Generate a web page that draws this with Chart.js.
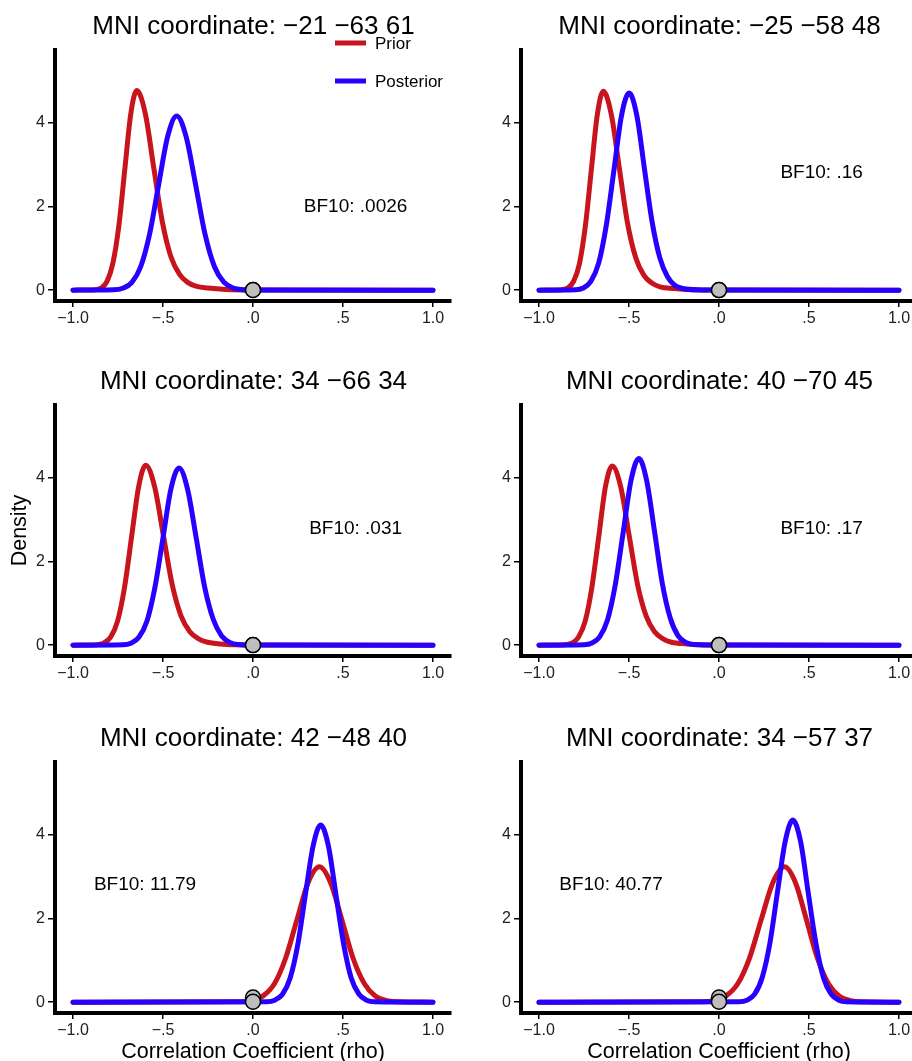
<!DOCTYPE html>
<html>
<head>
<meta charset="utf-8">
<script src="https://cdn.jsdelivr.net/npm/chart.js@4.4.0/dist/chart.umd.min.js"></script>
<style>
  html, body { margin: 0; padding: 0; background: #fff; }
  #page { position: relative; width: 912px; height: 1061px; overflow: hidden; }
  #page canvas { position: absolute; }
</style>
</head>
<body>
<div id="page"></div>
<script>
// ---- data ----
var panelTitles = [
    'MNI coordinate: \u221221 \u221263 61',
    'MNI coordinate: \u221225 \u221258 48',
    'MNI coordinate: 34 \u221266 34',
    'MNI coordinate: 40 \u221270 45',
    'MNI coordinate: 42 \u221248 40',
    'MNI coordinate: 34 \u221257 37'
];
var seriesNames = ['Prior', 'Posterior'];
var bfLabels = ['BF10: .0026', 'BF10: .16', 'BF10: .031', 'BF10: .17', 'BF10: 11.79', 'BF10: 40.77'];
var bfX = [0.57, 0.57, 0.57, 0.57, -0.6, -0.6];
var bfY = [2.0, 2.8, 2.78, 2.78, 2.8, 2.8];

var xTickValues = [-1, -0.5, 0, 0.5, 1];
var xTickLabels = ['\u22121.0', '\u2212.5', '.0', '.5', '1.0'];
var yTickValues = [0, 2, 4];
var yTickLabels = ['0', '2', '4'];
var xAxisTitle = 'Correlation Coefficient (rho)';
var yAxisTitle = 'Density';

var p1PriorX = [-1.0, -0.877, -0.844, -0.811, -0.778, -0.745, -0.712, -0.679, -0.646, -0.598, -0.551, -0.503, -0.456, -0.408, -0.361, -0.313, -0.25, -0.15, 0, 1.0];
var p1PriorY = [0, 0.01, 0.05, 0.21, 0.65, 1.55, 2.90, 4.22, 4.78, 4.22, 2.92, 1.62, 0.80, 0.38, 0.18, 0.09, 0.05, 0.015, 0.003, 0];
var p1PostX = [-1.0, -0.774, -0.724, -0.674, -0.624, -0.574, -0.524, -0.474, -0.424, -0.372, -0.319, -0.267, -0.214, -0.162, -0.109, -0.057, 0, 1.0];
var p1PostY = [0, 0.01, 0.046, 0.18, 0.56, 1.35, 2.53, 3.68, 4.17, 3.68, 2.53, 1.35, 0.56, 0.19, 0.05, 0.012, 0.003, 0];

var p2PriorX = [-1.0, -0.874, -0.841, -0.808, -0.775, -0.742, -0.709, -0.676, -0.643, -0.598, -0.553, -0.508, -0.463, -0.418, -0.373, -0.328, -0.25, -0.15, 0, 1.0];
var p2PriorY = [0, 0.01, 0.05, 0.21, 0.64, 1.55, 2.89, 4.20, 4.76, 4.20, 2.90, 1.60, 0.78, 0.36, 0.17, 0.08, 0.04, 0.012, 0.002, 0];
var p2PostX = [-1.0, -0.797, -0.754, -0.712, -0.669, -0.627, -0.584, -0.542, -0.499, -0.456, -0.414, -0.371, -0.329, -0.286, -0.244, -0.201, -0.1, 0, 1.0];
var p2PostY = [0, 0.01, 0.052, 0.21, 0.64, 1.53, 2.86, 4.17, 4.72, 4.17, 2.90, 1.62, 0.78, 0.32, 0.11, 0.04, 0.006, 0.001, 0];

var p3PriorX = [-1.0, -0.869, -0.83, -0.791, -0.752, -0.713, -0.674, -0.635, -0.596, -0.547, -0.498, -0.449, -0.4, -0.351, -0.302, -0.253, -0.18, -0.1, 0, 1.0];
var p3PriorY = [0, 0.01, 0.048, 0.19, 0.58, 1.40, 2.61, 3.80, 4.31, 3.80, 2.63, 1.45, 0.70, 0.32, 0.15, 0.07, 0.03, 0.01, 0.002, 0];
var p3PostX = [-1.0, -0.723, -0.678, -0.634, -0.589, -0.545, -0.5, -0.456, -0.411, -0.364, -0.316, -0.269, -0.221, -0.174, -0.126, -0.079, 0, 1.0];
var p3PostY = [0, 0.01, 0.047, 0.19, 0.58, 1.38, 2.57, 3.74, 4.24, 3.74, 2.58, 1.40, 0.62, 0.22, 0.06, 0.015, 0.002, 0];

var p4PriorX = [-1.0, -0.856, -0.818, -0.781, -0.743, -0.706, -0.668, -0.631, -0.593, -0.546, -0.499, -0.452, -0.405, -0.358, -0.311, -0.264, -0.18, -0.1, 0, 1.0];
var p4PriorY = [0, 0.01, 0.048, 0.19, 0.58, 1.39, 2.60, 3.79, 4.29, 3.79, 2.62, 1.44, 0.70, 0.32, 0.15, 0.07, 0.03, 0.01, 0.002, 0];
var p4PostX = [-1.0, -0.75, -0.706, -0.663, -0.619, -0.576, -0.532, -0.489, -0.445, -0.402, -0.358, -0.315, -0.271, -0.228, -0.184, -0.141, 0, 1.0];
var p4PostY = [0, 0.01, 0.05, 0.20, 0.61, 1.45, 2.71, 3.94, 4.47, 3.94, 2.72, 1.48, 0.65, 0.23, 0.065, 0.016, 0.002, 0];

var p5PriorX = [-1.0, -0.069, -0.006, 0.056, 0.119, 0.181, 0.244, 0.306, 0.369, 0.431, 0.494, 0.556, 0.619, 0.681, 0.744, 0.806, 1.0];
var p5PriorY = [0, 0.007, 0.04, 0.15, 0.44, 1.05, 1.97, 2.86, 3.24, 2.86, 1.97, 1.05, 0.44, 0.14, 0.036, 0.007, 0];
var p5PostX = [-1.0, 0.078, 0.121, 0.164, 0.206, 0.249, 0.291, 0.334, 0.376, 0.419, 0.461, 0.504, 0.546, 0.589, 0.631, 0.674, 1.0];
var p5PostY = [0, 0.009, 0.047, 0.19, 0.57, 1.38, 2.57, 3.74, 4.24, 3.74, 2.57, 1.38, 0.57, 0.19, 0.047, 0.009, 0];

var p6PriorX = [-1.0, -0.091, -0.026, 0.039, 0.104, 0.169, 0.234, 0.299, 0.364, 0.425, 0.486, 0.547, 0.608, 0.669, 0.73, 0.791, 1.0];
var p6PriorY = [0, 0.007, 0.04, 0.15, 0.44, 1.05, 1.97, 2.86, 3.24, 2.86, 1.97, 1.05, 0.44, 0.14, 0.036, 0.007, 0];
var p6PostX = [-1.0, 0.113, 0.155, 0.198, 0.24, 0.283, 0.325, 0.368, 0.41, 0.453, 0.495, 0.538, 0.58, 0.623, 0.665, 0.708, 1.0];
var p6PostY = [0, 0.01, 0.048, 0.19, 0.59, 1.42, 2.64, 3.85, 4.36, 3.85, 2.64, 1.42, 0.59, 0.19, 0.048, 0.01, 0];

// density of prior / posterior at rho = 0 (grey dots)
var priorAtZero = [0.003, 0.002, 0.002, 0.002, 0.11, 0.11];
var posteriorAtZero = [0.003, 0.001, 0.002, 0.002, 0.01, 0.01];

var priorXs = [p1PriorX, p2PriorX, p3PriorX, p4PriorX, p5PriorX, p6PriorX];
var priorYs = [p1PriorY, p2PriorY, p3PriorY, p4PriorY, p5PriorY, p6PriorY];
var postXs = [p1PostX, p2PostX, p3PostX, p4PostX, p5PostX, p6PostX];
var postYs = [p1PostY, p2PostY, p3PostY, p4PostY, p5PostY, p6PostY];

// ---- layout / style ----
var FONT = '"Liberation Sans", Arial, sans-serif';
var seriesColors = ['#C8141C', '#2800FF'];
var panelLeft = [0, 466, 0, 466, 0, 466];
var panelTop = [0, 0, 355, 355, 712, 712];
var PANEL_W = 507;
var AREA_BOTTOM = 301;

Chart.defaults.font.family = FONT;

function toPoints(xs, ys) {
    return xs.map(function (x, k) { return {x: x, y: ys[k]}; });
}

// BF10 annotation, plus the legend on the first panel
var panelExtras = {
    id: 'panelExtras',
    afterDatasetsDraw: function (chart, args, opts) {
        var ctx = chart.ctx;
        var ca = chart.chartArea;
        ctx.save();
        ctx.fillStyle = '#000';
        ctx.font = '19px ' + FONT;
        ctx.textAlign = 'center';
        ctx.textBaseline = 'middle';
        ctx.fillText(opts.text, chart.scales.x.getPixelForValue(opts.x), chart.scales.y.getPixelForValue(opts.y));
        if (opts.legend) {
            var offsets = [-7, 31];
            seriesNames.forEach(function (name, k) {
                var y = ca.top + offsets[k];
                ctx.strokeStyle = seriesColors[k];
                ctx.lineWidth = 5;
                ctx.beginPath();
                ctx.moveTo(ca.right - 116, y);
                ctx.lineTo(ca.right - 85, y);
                ctx.stroke();
                ctx.fillStyle = '#000';
                ctx.font = '17px ' + FONT;
                ctx.textAlign = 'left';
                ctx.fillText(name, ca.right - 76, y + 1);
            });
        }
        ctx.restore();
    }
};

function lineSet(label, pts, color, order) {
    return {
        label: label, data: pts, borderColor: color, borderWidth: 5,
        pointRadius: 0, cubicInterpolationMode: 'monotone', fill: false,
        borderCapStyle: 'round', borderJoinStyle: 'round', order: order
    };
}

function dotSet(y, order) {
    return {
        data: [{x: 0, y: y}], showLine: false, pointRadius: 7.5,
        pointBackgroundColor: '#BEBEBE', pointBorderColor: '#000', pointBorderWidth: 1.5,
        order: order
    };
}

function makePanel(i) {
    var bottomRow = i >= 4;
    var h = bottomRow ? 353 : 340;
    var canvas = document.createElement('canvas');
    canvas.width = PANEL_W;
    canvas.height = h;
    canvas.style.left = panelLeft[i] + 'px';
    canvas.style.top = panelTop[i] + 'px';
    canvas.style.width = PANEL_W + 'px';
    canvas.style.height = h + 'px';
    document.getElementById('page').appendChild(canvas);

    new Chart(canvas.getContext('2d'), {
        type: 'line',
        data: {
            datasets: [
                lineSet(seriesNames[0], toPoints(priorXs[i], priorYs[i]), seriesColors[0], 3),
                lineSet(seriesNames[1], toPoints(postXs[i], postYs[i]), seriesColors[1], 2),
                dotSet(priorAtZero[i], 1),
                dotSet(posteriorAtZero[i], 0)
            ]
        },
        plugins: [panelExtras],
        options: {
            responsive: false,
            animation: false,
            devicePixelRatio: 1,
            layout: {padding: 0},
            plugins: {
                legend: {display: false},
                tooltip: {enabled: false},
                title: {
                    display: true, text: panelTitles[i], color: '#000',
                    font: {family: FONT, size: 26, weight: 'normal'},
                    padding: {top: 11.4, bottom: 7.4}
                },
                panelExtras: {text: bfLabels[i], x: bfX[i], y: bfY[i], legend: i === 0}
            },
            scales: {
                x: {
                    type: 'linear', min: -1.1, max: 1.1,
                    afterFit: function (s) { s.height = h - AREA_BOTTOM; },
                    afterBuildTicks: function (s) {
                        s.ticks = xTickValues.map(function (v) { return {value: v}; });
                    },
                    ticks: {
                        autoSkip: false, maxRotation: 0, padding: 2, color: '#222',
                        font: {size: 16},
                        callback: function (v) { return xTickLabels[xTickValues.indexOf(v)]; }
                    },
                    grid: {display: true, drawOnChartArea: false, tickLength: 6, color: '#000', lineWidth: 1.5},
                    border: {display: true, color: '#000', width: 4},
                    title: {
                        display: bottomRow, text: xAxisTitle, color: '#000',
                        font: {size: 21.5}, padding: {top: 0, bottom: 0}
                    }
                },
                y: {
                    type: 'linear', min: -0.26, max: 5.75,
                    afterFit: function (s) { s.width = 55; },
                    afterBuildTicks: function (s) {
                        s.ticks = yTickValues.map(function (v) { return {value: v}; });
                    },
                    ticks: {
                        padding: 3, color: '#222', font: {size: 16},
                        callback: function (v) { return yTickLabels[yTickValues.indexOf(v)]; }
                    },
                    grid: {display: true, drawOnChartArea: false, tickLength: 7, color: '#000', lineWidth: 1.5},
                    border: {display: true, color: '#000', width: 4},
                    title: {
                        display: i === 2, text: yAxisTitle, color: '#000',
                        font: {size: 21.5}, padding: {top: 7, bottom: 0}
                    }
                },
                // empty right-hand strip so the title centres over the plot area
                yr: {
                    type: 'linear', position: 'right', min: 0, max: 1,
                    afterFit: function (s) { s.width = 56; },
                    ticks: {display: false},
                    grid: {display: false},
                    border: {display: false}
                }
            }
        }
    });
}

for (var i = 0; i < panelTitles.length; i++) {
    makePanel(i);
}
</script>
</body>
</html>
